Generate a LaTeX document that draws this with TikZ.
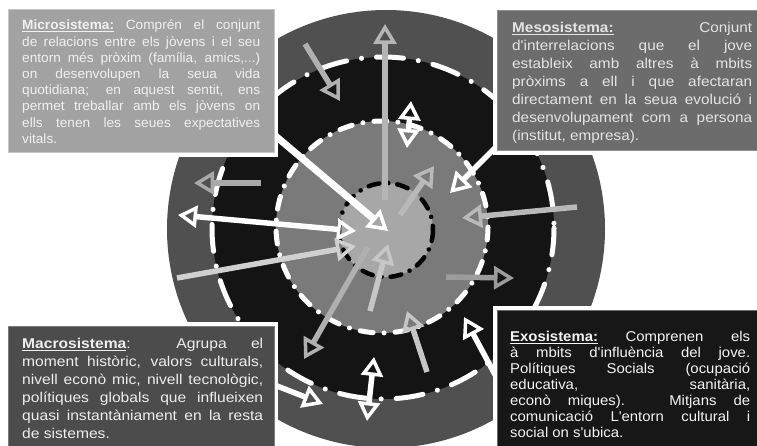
\documentclass[tikz,border=0pt]{standalone}
\usepackage{fontspec}
\setmainfont{Liberation Sans}
\newfontfamily\fmi{Liberation Sans}[FakeStretch=1.02]
\newfontfamily\fme{Liberation Sans}[FakeStretch=1.08]
\newfontfamily\fma{Liberation Sans}[FakeStretch=1.1]
\newfontfamily\fex{Liberation Sans}[FakeStretch=1.05]
\usetikzlibrary{arrows.meta}
\definecolor{ringout}{HTML}{505050}
\definecolor{ringblk}{HTML}{141414}
\definecolor{ringmid}{HTML}{7A7A7A}
\definecolor{ringin}{HTML}{A7A7A7}
\definecolor{mifill}{HTML}{A2A2A2}
\definecolor{miedge}{HTML}{C6C6C6}
\definecolor{mitext}{HTML}{F0F0F0}
\definecolor{mefill}{HTML}{6C6C6C}
\definecolor{meedge}{HTML}{8E8E8E}
\definecolor{metext}{HTML}{E4E4E4}
\definecolor{mafill}{HTML}{4C4C4C}
\definecolor{maedge}{HTML}{7C7C7C}
\definecolor{matext}{HTML}{EEEEEE}
\definecolor{exfill}{HTML}{171717}
\definecolor{exedge}{HTML}{6A6A6A}
\definecolor{extext}{HTML}{F4F4F4}
\definecolor{agA}{HTML}{B5B5B5}
\definecolor{agB}{HTML}{B0B0B0}
\definecolor{agC}{HTML}{B9B9B9}
\definecolor{agD}{HTML}{A8A8A8}
\definecolor{agE}{HTML}{D0D0D0}
\definecolor{agF}{HTML}{9C9C9C}
\definecolor{agG}{HTML}{C6C6C6}
\newcommand{\jl}[2]{\makebox[#1][s]{#2}\\}
\begin{document}
\begin{tikzpicture}[x=1pt,y=-1pt,
  arr/.style={line width=5.5pt, -{Triangle[open,length=20pt,width=23pt,line width=3.5pt]}},
  darr/.style={line width=5.5pt, {Triangle[open,length=19pt,width=22pt,line width=3.5pt]}-{Triangle[open,length=19pt,width=22pt,line width=3.5pt]}},
  wdd1/.style={white, line width=5pt, line cap=round, dash pattern=on 27pt off 15pt on 0.1pt off 15pt},
  wdd2/.style={white, line width=5pt, line cap=round, dash pattern=on 13pt off 11pt on 0.1pt off 11pt},
  bdd/.style={black, line width=4.5pt, line cap=round, dash pattern=on 11pt off 9pt on 0.1pt off 9pt},
  txt/.style={anchor=base west, inner sep=0pt}]
\useasboundingbox (0,0) rectangle (757,446);
\clip (0,0) rectangle (757,446);
\fill[white] (0,0) rectangle (757,446);
% rings
\fill[ringout] (386,229) circle (219);
\fill[ringblk] (383,228) circle (171);
\draw[wdd1] (383,228) circle (171);
\fill[ringmid] (382,227) circle (106);
\draw[wdd2] (382,227) circle (106);
\fill[ringin] (386,230) circle (47);
\draw[bdd] (386,230) circle (47);
% arrow end points
\coordinate (a1s) at (385,200);  \coordinate (a1e) at (385,24);
\coordinate (a2s) at (305,44);   \coordinate (a2e) at (340,101);
\coordinate (a3s) at (407,148);  \coordinate (a3e) at (411,101);
\coordinate (a4s) at (272,133);  \coordinate (a4e) at (388,231);
\coordinate (a5s) at (497,146);  \coordinate (a5e) at (450,193);
\coordinate (a6s) at (400,215);  \coordinate (a6e) at (434,166);
\coordinate (a7s) at (261,183);  \coordinate (a7e) at (194,183);
\coordinate (a8s) at (178,215);  \coordinate (a8e) at (356,231);
\coordinate (a9s) at (177,278);  \coordinate (a9e) at (356,246);
\coordinate (b1s) at (577,207);  \coordinate (b1e) at (462,218);
\coordinate (b2s) at (446,277);  \coordinate (b2e) at (514,278);
\coordinate (b3s) at (368,247);  \coordinate (b3e) at (304,359);
\coordinate (b4s) at (370,311);  \coordinate (b4e) at (388,244);
\coordinate (b5s) at (427,372);  \coordinate (b5e) at (407,311);
\coordinate (b6s) at (499,382);  \coordinate (b6e) at (464,317);
\coordinate (b7s) at (367,421);  \coordinate (b7e) at (374,357);
\coordinate (b8s) at (272,384);  \coordinate (b8e) at (323,404);
% arrows
\draw[arr, agA] (a1s) -- (a1e);
\draw[arr, agB] (a2s) -- (a2e);
\draw[darr, white] (a3s) -- (a3e);
\draw[arr, white, line width=7pt] (a4s) -- (a4e);
\draw[arr, white] (a5s) -- (a5e);
\draw[arr, agC] (a6s) -- (a6e);
\draw[arr, agD] (a7s) -- (a7e);
\draw[darr, white] (a8s) -- (a8e);
\draw[arr, agE] (a9s) -- (a9e);
\draw[arr, agC] (b1s) -- (b1e);
\draw[arr, agF] (b2s) -- (b2e);
\draw[arr, agB] (b3s) -- (b3e);
\draw[arr, agG] (b4s) -- (b4e);
\draw[arr, agG] (b5s) -- (b5e);
\draw[arr, white] (b6s) -- (b6e);
\draw[darr, white] (b7s) -- (b7e);
\draw[arr, white] (b8s) -- (b8e);
% boxes
\fill[white] (4,6) rectangle (278,157);
\fill[mifill, draw=miedge, line width=1pt] (8,10) rectangle (274,153);
\fill[white] (493,7) rectangle (760,155);
\fill[mefill, draw=meedge, line width=1pt] (497,11) rectangle (762,151);
\fill[white] (4,322) rectangle (278,450);
\fill[mafill, draw=maedge, line width=1pt] (8,326) rectangle (274,452);
\fill[white] (493,306) rectangle (760,450);
\fill[exfill, draw=exedge, line width=1pt] (497,310) rectangle (762,452);
% texts
\node[txt, text=mitext] (micro) at (22,30) {\parbox[t]{238pt}{\fmi\fontsize{13.4}{16.2}\selectfont
\jl{238pt}{\underline{\textbf{Microsistema:}} Comprén el conjunt}
\jl{238pt}{de relacions entre els jòvens i el seu}
\jl{238pt}{entorn més pròxim (família, amics,...)}
\jl{238pt}{on desenvolupen la seua vida}
\jl{238pt}{quotidiana; en aquest sentit, ens}
\jl{238pt}{permet treballar amb els jòvens on}
\jl{238pt}{ells tenen les seues expectatives}
vitals.}};
\node[txt, text=metext] (meso) at (512,32.7) {\parbox[t]{240pt}{\fme\fontsize{14.2}{17.9}\selectfont
\jl{240pt}{\underline{\textbf{Mesosistema:}} Conjunt}
\jl{240pt}{d'interrelacions que el jove}
\jl{240pt}{estableix amb altres à mbits}
\jl{240pt}{pròxims a ell i que afectaran}
\jl{240pt}{directament en la seua evolució i}
\jl{240pt}{desenvolupament com a persona}
(institut, empresa).}};
\node[txt, text=matext] (macro) at (22,348.3) {\parbox[t]{241pt}{\fma\fontsize{14.2}{18}\selectfont
\jl{241pt}{\underline{\textbf{Macrosistema}}: Agrupa el}
\jl{241pt}{moment històric, valors culturals,}
\jl{241pt}{nivell econò mic, nivell tecnològic,}
\jl{241pt}{polítiques globals que influeixen}
\jl{241pt}{quasi instantàniament en la resta}
de sistemes.}};
\node[txt, text=extext] (exo) at (510,341.7) {\parbox[t]{240pt}{\fex\fontsize{14.2}{16}\selectfont
\jl{240pt}{\underline{\textbf{Exosistema:}} Comprenen els}
\jl{240pt}{à mbits d'influència del jove.}
\jl{240pt}{Polítiques Socials (ocupació}
\jl{240pt}{educativa, sanitària,}
\jl{240pt}{econò miques). Mitjans de}
\jl{240pt}{comunicació L'entorn cultural i}
social on s'ubica.}};
\end{tikzpicture}
\end{document}
